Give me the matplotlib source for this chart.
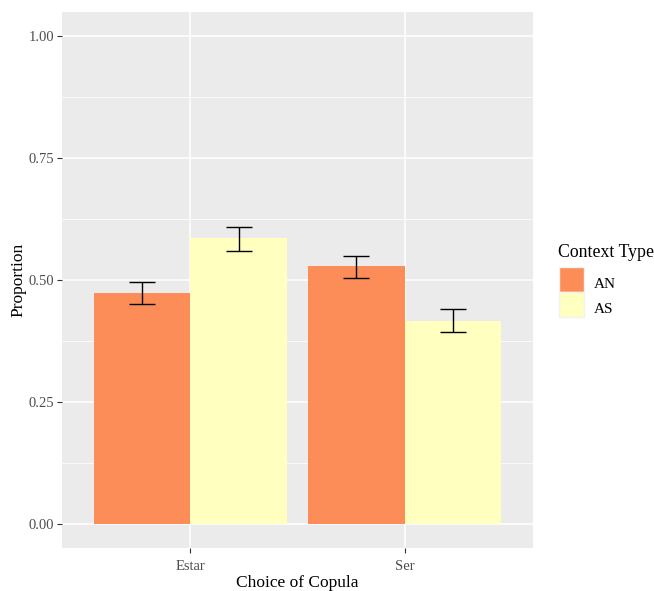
import matplotlib
matplotlib.use("Agg")
import matplotlib.pyplot as plt
import numpy as np
from matplotlib.patches import Rectangle

categories = ["Estar", "Ser"]
groups = ["AN", "AS"]
values = {"AN": [0.473, 0.529], "AS": [0.586, 0.415]}
lower = {"AN": [0.451, 0.505], "AS": [0.560, 0.394]}
upper = {"AN": [0.495, 0.549], "AS": [0.609, 0.441]}
colors = {"AN": "#FC8D59", "AS": "#FFFFBF"}
yticks = [0.0, 0.25, 0.5, 0.75, 1.0]
ytick_labels = ["0.00", "0.25", "0.50", "0.75", "1.00"]
legend_title = "Context Type"

plt.rcParams['font.family'] = ['Liberation Serif', 'DejaVu Serif']

W, H = 654, 591
fig = plt.figure(figsize=(W/100, H/100), dpi=100)
ax = fig.add_axes([62/W, 1-548/H, (533-62)/W, (548-12)/H])
ax.set_facecolor("#EBEBEB")

x = np.arange(1, len(categories)+1)
bw = 0.45
offsets = {"AN": -bw/2, "AS": bw/2}
for g in groups:
    xs = x + offsets[g]
    ax.bar(xs, values[g], width=bw, color=colors[g], zorder=3, linewidth=0)
    v = np.array(values[g])
    yerr = np.vstack([v - np.array(lower[g]), np.array(upper[g]) - v])
    ax.errorbar(xs, v, yerr=yerr, fmt='none', ecolor='black', elinewidth=1.0,
                capsize=9.5, capthick=1.0, zorder=4)

ax.set_xlim(0.4, 2.6)
ax.set_ylim(-0.05, 1.05)
ax.set_yticks(yticks)
ax.set_yticklabels(ytick_labels)
ax.set_yticks([0.125, 0.375, 0.625, 0.875], minor=True)
ax.set_xticks(x)
ax.set_xticklabels(categories)

ax.grid(True, which='major', color='white', linewidth=1.1, zorder=0)
ax.grid(True, which='minor', axis='y', color='white', linewidth=0.55, zorder=0)
ax.set_axisbelow(True)
for s in ax.spines.values():
    s.set_visible(False)
ax.tick_params(axis='both', which='major', length=3.5, width=0.8, color='#333333',
               labelcolor='#4D4D4D', labelsize=10.5)
ax.tick_params(axis='x', which='major', pad=5)
ax.tick_params(axis='y', which='major', pad=2)
ax.tick_params(axis='both', which='minor', length=0)

ax.set_xlabel("Choice of Copula", fontsize=12.5, color='black', labelpad=1.5)
ax.set_ylabel("Proportion", fontsize=12.5, color='black', labelpad=2)

# legend (drawn manually in pixel-based figure coords)
def fx(px):
    return px / W
def fy(py):
    return 1 - py / H

fig.text(fx(558), fy(257), legend_title, fontsize=12.8, color='black',
         ha='left', va='baseline')
for i, g in enumerate(groups):
    top = 267 + 25 * i
    fig.add_artist(Rectangle((fx(559), fy(top + 25)), 25/W, 25/H,
                             transform=fig.transFigure, facecolor=colors[g],
                             edgecolor='#F2F2F2', linewidth=1.0))
    fig.text(fx(594), fy(top + 21), g, fontsize=11, color='black',
             ha='left', va='baseline')

fig.savefig("out.png", dpi=100)
